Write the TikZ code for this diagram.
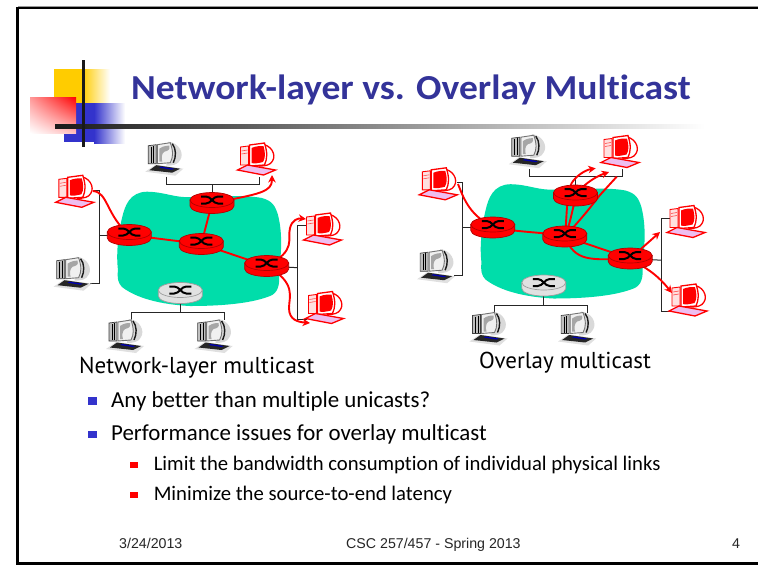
\documentclass[tikz,border=0pt]{standalone}
\usepackage{fontspec}
\setmainfont{Carlito}[Ligatures=NoCommon]
\newfontfamily\titlefont{Carlito}[Ligatures=NoCommon,FakeStretch=1.07]
\newfontfamily\labelfont{PT Sans}
\newfontfamily\footfont{Liberation Sans}
\usetikzlibrary{arrows.meta,shadings}
\definecolor{cloudgreen}{RGB}{0,221,170}
\definecolor{titleblue}{RGB}{51,51,153}
\definecolor{logoyellow}{RGB}{255,204,0}
\definecolor{logoblue}{RGB}{51,51,204}
\definecolor{lilac}{RGB}{238,190,240}
\definecolor{routergray}{RGB}{225,225,225}
\tikzset{
  txt/.style={inner sep=0pt,anchor=base west,text=black},
  wire/.style={line width=1pt,draw=black!85},
  redlink/.style={line width=1.9pt,draw=red},
  redarrow/.style={line width=1.9pt,draw=red,-{Stealth[length=7.5pt,width=7.5pt]}},
  routerbody/.pic={
    \filldraw[fill=#1,draw=#1!70!black,line width=.7pt] (-22,-3) -- (-22,3) arc[start angle=180,end angle=0,x radius=22,y radius=7.5] -- (22,-3) -- cycle;
    \filldraw[fill=#1,draw=#1!70!black,line width=.7pt] (0,-3) ellipse[x radius=22,y radius=7.5];
    \draw[line width=2pt,black] (-11,-6.5) -- (-6,-6.5) .. controls (-1,-6.5) and (1,.5) .. (6,.5) -- (11,.5);
    \draw[line width=2pt,black] (-11,.5) -- (-6,.5) .. controls (-1,.5) and (1,-6.5) .. (6,-6.5) -- (11,-6.5);
  },
  pcred/.pic={
    \filldraw[fill=red!12,draw=red,line width=.9pt] (-15,-11) -- (-7,-12) -- (-7,7) -- (-15,7) -- cycle;
    \draw[red!70,line width=.6pt] (-14,-7) -- (-8,-8) (-14,-4) -- (-8,-5);
    \filldraw[fill=white,draw=red,line width=1.3pt] (4,-14) .. controls (16,-14) and (21,-3) .. (17,3) .. controls (15,7) and (10,8) .. (4,8) -- cycle;
    \filldraw[fill=white,draw=red,line width=1.3pt] (-6,-13) -- (9,-15) .. controls (12,-5) and (12,0) .. (9,7) -- (-6,8) -- cycle;
    \fill[red] (-4,-10) .. controls (0,-12) and (5,-12) .. (8,-12) .. controls (10,-5) and (10,0) .. (7.5,4) .. controls (3,5) and (-1,6) .. (-4,5) -- cycle;
    \filldraw[fill=lilac,draw=red,line width=1.3pt] (-18,12) -- (-8,7) -- (20,12) -- (8,17) -- cycle;
  },
  pcgray/.pic={
    \filldraw[fill=black!25,draw=black!75,line width=.7pt] (-15,-11) -- (-7,-12) -- (-7,7) -- (-15,7) -- cycle;
    \draw[black,line width=1pt] (-12,-10) -- (-12,6) (-9.5,-11) -- (-9.5,6);
    \fill[black!15] (5,-15) .. controls (16,-14) and (21,-3) .. (17,3) .. controls (15,8) and (9,9) .. (3,9) -- cycle;
    \draw[black!90,line width=1.4pt] (9,-13) .. controls (13,-8) and (13,0) .. (10,6);
    \filldraw[fill=black!6,draw=black!55,line width=.9pt] (-6,-12) -- (7,-14) .. controls (10,-5) and (10,0) .. (7,6) -- (-6,7) -- cycle;
    \fill[black!35] (-4,-8) .. controls (0,-11) and (4,-11) .. (6,-11) .. controls (7,-7) and (5,-6) .. (1,-5) .. controls (-2,-3) and (-2,2) .. (-1,5) -- (-4,5) -- cycle;
    \fill[black!12] (-18,15) -- (-8,8) -- (20,12) -- (12,19) -- cycle;
    \fill[black!85] (-14,13.5) -- (-7,8.5) -- (17,12) -- (9,16) -- cycle;
    \fill[blue!70!black] (-4,11) -- (-2,10) -- (11,12) -- (9,13) -- cycle;
  },
}
\newcommand{\netbase}{%
  \fill[cloudgreen] (147,191.7) .. controls (165,192) and (175,198) .. (190,197)
    .. controls (215,198) and (240,194) .. (262,198)
    .. controls (272,201) and (275,205) .. (278,215)
    .. controls (283,235) and (281,255) .. (279,273)
    .. controls (280,285) and (278,293) .. (270,296)
    .. controls (255,302) and (230,306) .. (190,306)
    .. controls (170,305) and (140,301) .. (122,287)
    .. controls (118,283) and (117,278) .. (118,270)
    .. controls (116,255) and (118,235) .. (122,218)
    .. controls (125,205) and (130,192) .. (147,191.7) -- cycle;
  \coordinate (rt) at (212,203);
  \coordinate (rl) at (129.3,235);
  \coordinate (rm) at (201.3,244);
  \coordinate (rr) at (266.7,266);
  \coordinate (rg) at (180.3,293);
  \coordinate (ptl) at (93,190);
  \coordinate (pl) at (90,283.3);
  \coordinate (bltop) at (99.3,190);
  \coordinate (blbot) at (99.3,283.3);
  \coordinate (blmid) at (99.3,235);
  \coordinate (pta) at (166,176.7);
  \coordinate (ptb) at (259.3,176.7);
  \coordinate (btl) at (166,184);
  \coordinate (btr) at (259.3,184);
  \coordinate (btm) at (212,184);
  \coordinate (pra) at (306.7,225.7);
  \coordinate (prb) at (306.7,319);
  \coordinate (bra) at (297.7,225.7);
  \coordinate (brb) at (297.7,319);
  \coordinate (brm) at (297.7,267.7);
  \coordinate (pba) at (131,320);
  \coordinate (pbb) at (224.3,320);
  \coordinate (bba) at (131,312.7);
  \coordinate (bbb) at (224.3,312.7);
  \coordinate (bbm) at (180.3,312.7);
  \draw[wire] (ptl) -- (bltop) -- (blbot) -- (pl);
  \draw[wire] (rl) -- (blmid);
  \draw[wire] (pta) -- (btl) -- (btr) -- (ptb);
  \draw[wire] (rt) -- (btm);
  \draw[wire] (pra) -- (bra) -- (brb) -- (prb);
  \draw[wire] (rr) -- (brm);
  \draw[wire] (pba) -- (bba) -- (bbb) -- (pbb);
  \draw[wire] (rg) -- (bbm);
  \pic at (73.8,190.3) {pcred};
  \pic at (255.5,158) {pcred};
  \pic at (321.5,228) {pcred};
  \pic at (323.5,306.5) {pcred};
  \pic at (163.3,156.7) {pcgray};
  \pic at (71.6,271.7) {pcgray};
  \pic at (124,334) {pcgray};
  \pic at (212.6,334) {pcgray};
}
\newcommand{\netrouters}{%
  \pic at (rt) {routerbody=red};
  \pic at (rl) {routerbody=red};
  \pic at (rm) {routerbody=red};
  \pic at (rr) {routerbody=red};
  \pic at (rg) {routerbody=routergray};
}
\begin{document}
\begin{tikzpicture}[x=1pt,y=-1pt]
\useasboundingbox (0,0) rectangle (758,566);
\fill[white] (0,0) rectangle (758,566);
% frame
\draw[black!40,line width=1pt] (18,6.8) -- (758,6.8);
\draw[black,line width=2.4pt] (758,8) -- (17.6,8) -- (17.6,563.6) -- (758,563.6);
% logo
\fill[logoyellow] (54,69) rectangle (82,103);
\shade[left color=logoyellow,right color=white] (82,69) rectangle (110,103);
\fill[logoblue] (64,103) rectangle (94,142);
\shade[left color=logoblue,right color=white] (94,103) rectangle (125,143);
\shade[upper right=red,lower left=white,upper left=red!40!white,lower right=red!25!white] (30,97) rectangle (76,133);
\shade[left color=black!90,right color=white] (55,124.4) rectangle (705,128);
\fill[black!90] (82,60) rectangle (85,147);
% title
\node[txt,text=titleblue,font=\titlefont\fontsize{35.1}{40}\selectfont\bfseries] (title) at (131,99) {Network-layer vs. Overlay Multicast};
% left network
\begin{scope}[name prefix=a-]
  \netbase
  \draw[redlink] (rl) -- (rm);
  \draw[redlink] (rm) -- (rt);
  \draw[redlink] (rm) -- (rr);
  \coordinate (s) at (93,191);
  \coordinate (e1) at (272,175);
  \coordinate (e2) at (306,219);
  \coordinate (e3) at (310,323);
  \draw[redlink] (s) .. controls (108,192) and (106,215) .. (rl);
  \draw[redarrow] (rt) .. controls (260,194) and (272,192) .. (e1);
  \draw[redarrow] (rr) .. controls (297,250) and (287,240) .. (290,228) .. controls (292,220) and (298,218) .. (e2);
  \draw[redarrow] (rr) .. controls (297,283) and (289,297) .. (289,308) .. controls (289,320) and (298,322) .. (e3);
  \netrouters
\end{scope}
% right network
\begin{scope}[name prefix=b-,shift={(363.5,-7.5)}]
  \netbase
\end{scope}
\coordinate (b-s) at (458,184);
\coordinate (b-t1) at (595.7,168.3);
\coordinate (b-t2) at (609,172);
\coordinate (b-t3) at (616.7,176.7);
\coordinate (b-e2) at (660,232);
\coordinate (b-e3) at (672,293);
\draw[redlink] (b-s) .. controls (465,202) and (470,214) .. (b-rl);
\draw[redlink] (b-rl) .. controls (525,233) and (545,232) .. (b-rm);
\draw[redlink] (b-rm) -- (b-rr);
\draw[redlink] (b-rm) .. controls (575,262) and (590,260) .. (b-rr);
\draw[redarrow] (b-rm) .. controls (567,220) and (566,195) .. (571.7,183) .. controls (576,176) and (585,170) .. (b-t1);
\draw[redarrow] (b-rm) .. controls (574,215) and (572,195) .. (585,185) .. controls (592,179) and (600,175) .. (b-t2);
\draw[redlink] (b-rm) .. controls (585,215) and (592,205) .. (600,195) -- (b-t3);
\draw[redarrow] (b-rr) -- (b-e2);
\draw[redarrow] (b-rr) .. controls (645,268) and (655,272) .. (b-e3);
\begin{scope}[name prefix=b-,shift={(363.5,-7.5)}]
  \netrouters
\end{scope}
% captions
\node[txt,font=\labelfont\fontsize{23}{27}\selectfont] (capa) at (79,373) {Network-layer multicast};
\node[txt,font=\labelfont\fontsize{23}{27}\selectfont] (capb) at (479,368) {Overlay multicast};
% bullets
\fill[logoblue] (88.4,397) rectangle (96.6,404.5);
\fill[logoblue] (88.4,430.5) rectangle (96.6,438);
\fill[red] (130.4,462) rectangle (137.7,468);
\fill[red] (130.4,492) rectangle (137.7,498);
\node[txt,font=\fontsize{22.9}{26}\selectfont] (l1) at (111,407.5) {Any better than multiple unicasts?};
\node[txt,font=\fontsize{22.9}{26}\selectfont] (l2) at (111,440.5) {Performance issues for overlay multicast};
\node[txt,font=\fontsize{20.7}{24}\selectfont] (l3) at (153.6,470.5) {Limit the bandwidth consumption of individual physical links};
\node[txt,font=\fontsize{20.7}{24}\selectfont] (l4) at (153.6,500.3) {Minimize the source-to-end latency};
% footer
\node[txt,font=\footfont\fontsize{14.2}{16}\selectfont,text=black!85] (f1) at (119,548.3) {3/24/2013};
\node[txt,font=\footfont\fontsize{14.2}{16}\selectfont,text=black!85] (f2) at (346,548.3) {CSC 257/457 - Spring 2013};
\node[txt,font=\footfont\fontsize{14.2}{16}\selectfont,text=black!85] (f3) at (732,548.3) {4};
\end{tikzpicture}
\end{document}
